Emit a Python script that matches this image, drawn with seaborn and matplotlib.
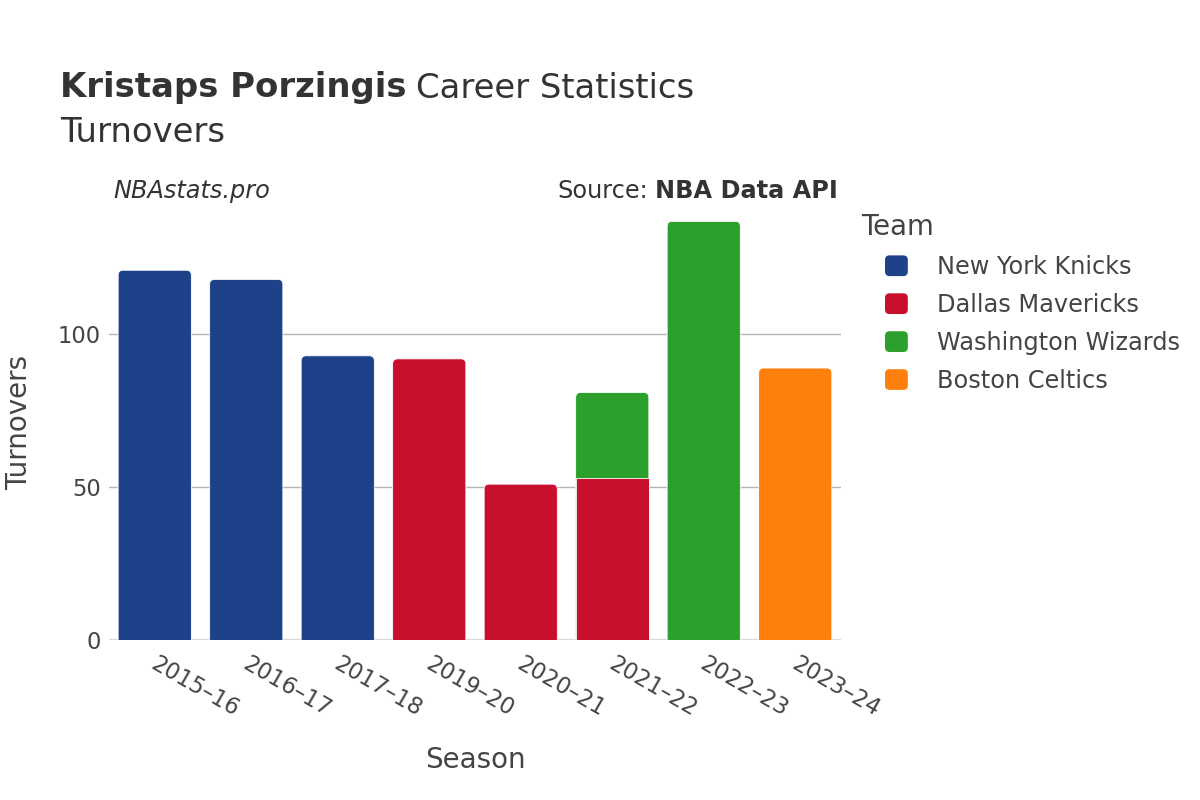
import matplotlib
matplotlib.use("Agg")
import matplotlib.pyplot as plt
import matplotlib.transforms as mtransforms
from matplotlib.patches import Patch, FancyBboxPatch, Rectangle
from matplotlib.legend_handler import HandlerPatch
import seaborn as sns
import pandas as pd

seasons = ["2015–16", "2016–17", "2017–18", "2019–20", "2020–21", "2021–22", "2022–23", "2023–24"]
teams = ["New York Knicks", "Dallas Mavericks", "Washington Wizards", "Boston Celtics"]
colors = ["#1d428a", "#c8102e", "#2ca02c", "#ff7f0e"]

row_season = ["2015–16", "2016–17", "2017–18", "2019–20", "2020–21", "2021–22", "2021–22", "2022–23", "2023–24"]
row_team = ["New York Knicks", "New York Knicks", "New York Knicks", "Dallas Mavericks", "Dallas Mavericks",
            "Dallas Mavericks", "Washington Wizards", "Washington Wizards", "Boston Celtics"]
row_value = [121, 118, 93, 92, 51, 53, 28, 137, 89]

df = pd.DataFrame({"Season": row_season, "Team": row_team, "Turnovers": row_value})
df["order"] = df["Team"].map({t: i for i, t in enumerate(teams)})
df = df.sort_values(["Season", "order"])
df["Top"] = df.groupby("Season")["Turnovers"].cumsum()

sns.set_theme(style="white")
plt.rcParams["font.family"] = ["DejaVu Sans"]
TXT = "#444444"

fig = plt.figure(figsize=(12, 8), dpi=100)
ax = fig.add_axes([109 / 1200, 0.2, 732 / 1200, 437 / 800])

palette = dict(zip(teams, colors))
sns.barplot(data=df, x="Season", y="Top", hue="Team", order=seasons,
            hue_order=teams[::-1], palette=palette, dodge=False, width=0.8,
            edgecolor="white", linewidth=0.6, saturation=1, legend=False, ax=ax)

ymax = 143
ax.set_ylim(0, ymax)
ax.set_xlim(-0.5, len(seasons) - 0.5)

# round the top corners of the topmost segment of each stack
rects = [p for p in ax.patches if isinstance(p, Rectangle) and p.get_height() > 0]
tops = {}
for p in rects:
    key = round(p.get_x() + p.get_width() / 2, 3)
    tops[key] = max(tops.get(key, 0), p.get_y() + p.get_height())
px_x = 732 / len(seasons)
px_y = 437 / ymax
aspect = px_x / px_y
rad = 5 / px_x
for p in rects:
    key = round(p.get_x() + p.get_width() / 2, 3)
    x, w, h = p.get_x(), p.get_width(), p.get_height()
    top = p.get_y() + h
    if abs(top - tops[key]) < 1e-6:
        fc = p.get_facecolor()
        p.remove()
        nb = FancyBboxPatch((x, -3), w, top + 3, boxstyle=f"round,pad=0,rounding_size={rad}",
                            mutation_aspect=aspect, facecolor=fc, edgecolor="white",
                            linewidth=0.6, zorder=p.get_zorder())
        ax.add_patch(nb)
for p in [p for p in ax.patches if isinstance(p, Rectangle)]:
    p.set_zorder(3)

ax.set_yticks([0, 50, 100])
ax.yaxis.grid(True, color="#b4b4b4", linewidth=1)
ax.set_axisbelow(True)
for s in ax.spines.values():
    s.set_visible(False)
ax.axhline(0, color="#e6e6e6", linewidth=2.5, zorder=0.5)
ax.tick_params(axis="both", length=0, labelsize=16.3, labelcolor=TXT)
ax.tick_params(axis="y", pad=6)
ax.set_yticklabels(["0", "50", "100"])
ax.set_xticks(range(len(seasons)))
ax.set_xticklabels(seasons, rotation=-30, ha="left", va="top", rotation_mode="anchor")
ax.tick_params(axis="x", pad=9)
offset = mtransforms.ScaledTranslation(4 / 100, 0, fig.dpi_scale_trans)
for lab in ax.get_xticklabels():
    lab.set_transform(lab.get_transform() + offset)
ax.set_xlabel("Season", fontsize=20, color=TXT)
ax.set_ylabel("Turnovers", fontsize=20, color=TXT)
ax.xaxis.set_label_coords(0.5, (640 - 760) / 437)
ax.xaxis.label.set_va("center")
ax.yaxis.set_label_coords((19 - 109) / 732, 0.497)
ax.yaxis.label.set_va("center")
ax.yaxis.label.set_ha("center")

fig.canvas.draw()
renderer = fig.canvas.get_renderer()

t1 = fig.text(60 / 1200, 1 - 88 / 800, "Kristaps Porzingis", fontsize=24.4, fontweight="bold",
              color="#333333", va="center", ha="left")
bb = t1.get_window_extent(renderer)
fig.text((bb.x1 + 10) / 1200, 1 - 88 / 800, "Career Statistics", fontsize=24.4, color="#333333",
         va="center", ha="left")
fig.text(60 / 1200, 1 - 132 / 800, "Turnovers", fontsize=24.4, color="#333333", va="center", ha="left")
fig.text(113 / 1200, 1 - 191 / 800, "NBAstats.pro", fontsize=17.3, style="italic", color="#333333",
         va="center", ha="left")
t2 = fig.text(838 / 1200, 1 - 191 / 800, "NBA Data API", fontsize=17.3, fontweight="bold",
              color="#333333", va="center", ha="right")
bb2 = t2.get_window_extent(renderer)
fig.text((bb2.x0 - 7) / 1200, 1 - 191 / 800, "Source:", fontsize=17.3, color="#333333",
         va="center", ha="right")


class RoundHandler(HandlerPatch):
    def create_artists(self, legend, orig_handle, xdescent, ydescent, width, height, fontsize, trans):
        p = FancyBboxPatch((-xdescent, -ydescent), width, height,
                           boxstyle=f"round,pad=0,rounding_size={height * 0.22}",
                           facecolor=orig_handle.get_facecolor(), edgecolor="none", transform=trans)
        return [p]


fig.text(861 / 1200, 1 - 227 / 800, "Team", fontsize=19.8, color=TXT, va="center", ha="left")
handles = [Patch(facecolor=c, edgecolor=c, label=t) for t, c in zip(teams, colors)]
leg = fig.legend(handles=handles, loc="upper left",
                 bbox_to_anchor=(885 / 1200, 1 - 255 / 800), frameon=False,
                 fontsize=17.3, handlelength=0.95, handleheight=0.95,
                 handletextpad=1.2, labelspacing=0.58, borderpad=0, borderaxespad=0,
                 handler_map={Patch: RoundHandler()})
for t in leg.get_texts():
    t.set_color(TXT)

fig.savefig("out.png", dpi=100)
